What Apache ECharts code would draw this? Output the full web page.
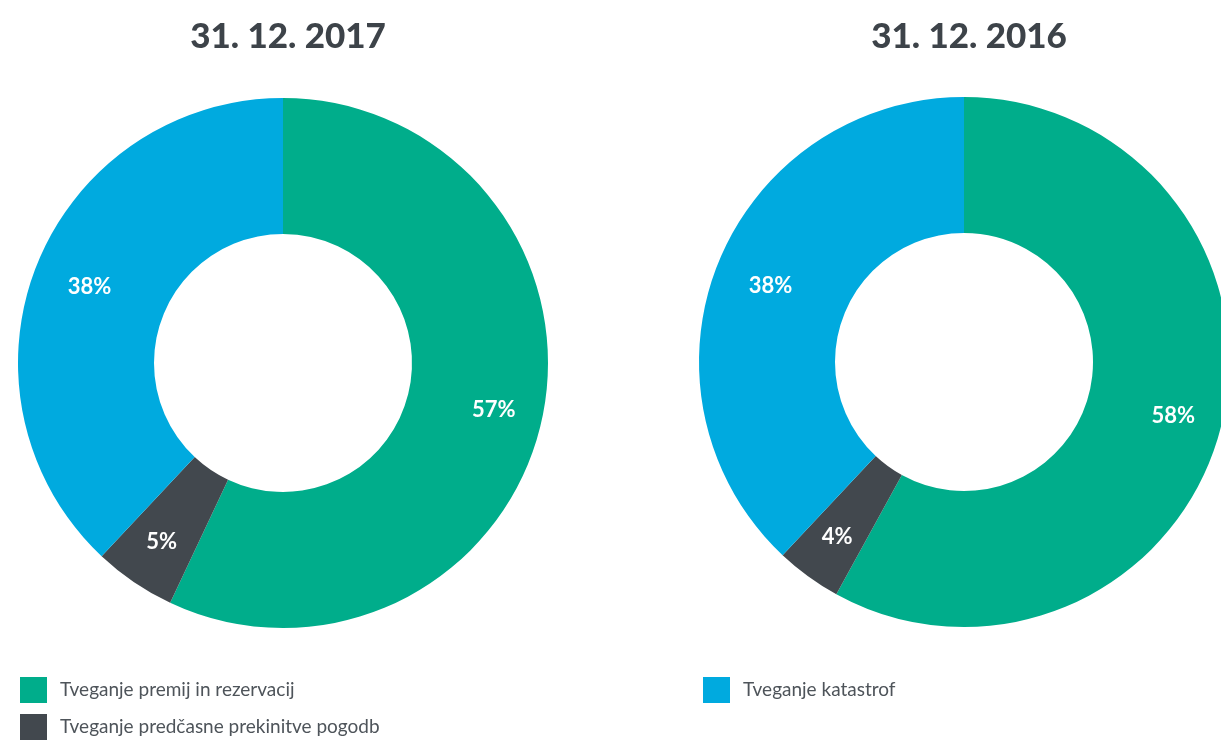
<!DOCTYPE html>
<html>
<head>
<meta charset="utf-8">
<script src="https://cdn.jsdelivr.net/npm/echarts@6/dist/echarts.min.js"></script>
<style>
  html, body { margin:0; padding:0; background:#fff; }
  #chart { width:1221px; height:740px; }
</style>
</head>
<body>
<div id="chart"></div>
<script>
var categories = ['Tveganje premij in rezervacij', 'Tveganje predčasne prekinitve pogodb', 'Tveganje katastrof'];
var titles = ['31. 12. 2017', '31. 12. 2016'];
var values2017 = [57, 5, 38];
var values2016 = [58, 4, 38];
var colors = ['#00ad8b', '#42484e', '#00aadf'];
var centers = [[283, 363], [964, 362]];

function toData(values){
	return categories.map(function(name, i){
		return { name: name, value: values[i] };
	});
}

// labels sit a bit further out than the ring's middle
function pushOut(params){
	var c = centers[params.seriesIndex];
	var r = params.labelRect;
	var dx = r.x + r.width / 2 - c[0];
	var dy = r.y + r.height / 2 - c[1];
	var len = Math.sqrt(dx * dx + dy * dy) || 1;
	var k = params.dataIndex === 2 ? 8 : 16;
	return { dx: dx / len * k, dy: dy / len * k };
}

function pieSeries(values, center){
	return {
		type: 'pie',
		center: center,
		radius: [129, 265],
		startAngle: 90,
		clockwise: true,
		silent: true,
		label: {
			show: true,
			position: 'inside',
			formatter: '{c}%',
			color: '#fff',
			fontFamily: 'Lato',
			fontWeight: 'bold',
			fontSize: 22
		},
		labelLayout: pushOut,
		labelLine: { show: false },
		itemStyle: { borderWidth: 0 },
		data: toData(values)
	};
}

var myChart = echarts.init(document.getElementById('chart'));
var legendText = { fontFamily: 'Lato', fontSize: 19, color: '#4e545a', padding: [0, 0, 0, 8] };
var option = {
	color: colors,
	animation: false,
	title: [
		{
			text: titles[0], left: 283, top: 14, textAlign: 'center',
			textStyle: { fontFamily: 'Lato', fontWeight: 900, fontSize: 35, color: '#3d4349' }
		},
		{
			text: titles[1], left: 964, top: 14, textAlign: 'center',
			textStyle: { fontFamily: 'Lato', fontWeight: 900, fontSize: 35, color: '#3d4349' }
		}
	],
	legend: [
		{
			orient: 'vertical',
			left: 20, top: 677, padding: 0,
			itemWidth: 27, itemHeight: 26, itemGap: 11,
			icon: 'rect',
			selectedMode: false,
			data: [categories[0], categories[1]],
			textStyle: legendText
		},
		{
			orient: 'vertical',
			left: 703, top: 677, padding: 0,
			itemWidth: 27, itemHeight: 26,
			icon: 'rect',
			selectedMode: false,
			data: [categories[2]],
			textStyle: legendText
		}
	],
	series: [
		pieSeries(values2017, centers[0]),
		pieSeries(values2016, centers[1])
	]
};
myChart.setOption(option);
</script>
</body>
</html>
